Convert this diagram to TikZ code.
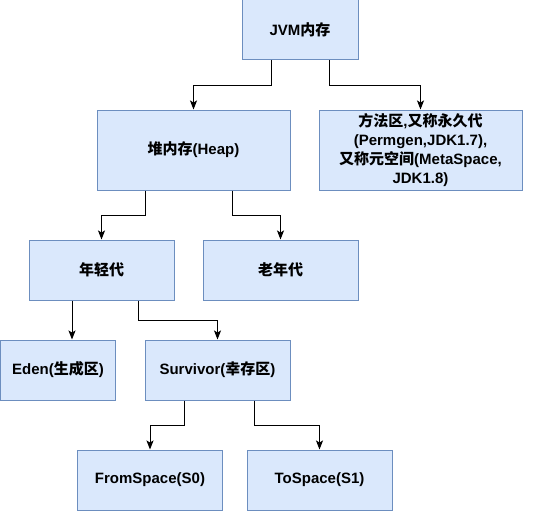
\documentclass[tikz,border=0pt]{standalone}
\usepackage{fontspec}
\setmainfont{Liberation Sans}
\newfontfamily\cjk{Noto Sans CJK SC}
\usetikzlibrary{arrows.meta}
\definecolor{boxfill}{HTML}{DAE8FC}
\definecolor{boxline}{HTML}{6C8EBF}
\newcommand{\zh}[1]{{\cjk #1}}

\begin{document}
\begin{tikzpicture}[x=1pt,y=-1pt,line width=1pt,
  font=\fontsize{15}{19}\selectfont\bfseries,
  >={Stealth[length=9pt,width=7pt,inset=2pt]},
  box/.style={draw=boxline,fill=boxfill,inner sep=0pt,align=center,minimum height=60pt},
  elbow/.style={->,to path={-- ++(0,#1) -| (\tikztotarget)}},
  elbow/.default=25]
\useasboundingbox (0,0) rectangle (541,511);
\node[box,minimum width=116pt] (a) at (300,30) {JVM\zh{内存}};
\node[box,minimum width=193pt,minimum height=80pt] (b) at (193.5,150) {\zh{堆内存}(Heap)};
\node[box,minimum width=203pt,minimum height=80pt] (c) at (420.5,150)
  {\zh{方法区},\zh{又称永久代}\\(Permgen,JDK1.7),\\\zh{又称元空间}(MetaSpace,\\JDK1.8)};
\node[box,minimum width=145pt] (d) at (101.5,270) {\zh{年轻代}};
\node[box,minimum width=155pt] (e) at (280.5,270) {\zh{老年代}};
\node[box,minimum width=115pt] (f) at (58,370) {Eden(\zh{生成区})};
\node[box,minimum width=145pt] (g) at (217.5,370) {Survivor(\zh{幸存区})};
\node[box,minimum width=145pt] (h) at (150,480) {FromSpace(S0)};
\node[box,minimum width=145pt] (i) at (319.5,480) {ToSpace(S1)};

\path
([xshift=-29pt]a.south) edge[elbow] (b)
([xshift=29pt]a.south) edge[elbow] (c)
([xshift=-48.5pt]b.south) edge[elbow] (d)
([xshift=38.5pt]b.south) edge[elbow] (e)
([xshift=-29.5pt]d.south) edge[->] ([xshift=14pt]f.north)
([xshift=36.5pt]d.south) edge[elbow=20] (g)
([xshift=-33.5pt]g.south) edge[elbow] (h)
([xshift=36.5pt]g.south) edge[elbow] (i);
\end{tikzpicture}
\end{document}
